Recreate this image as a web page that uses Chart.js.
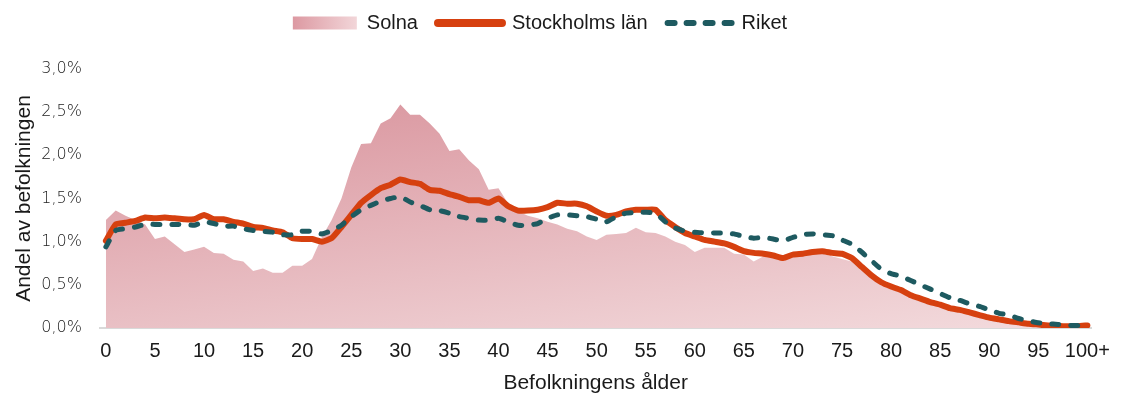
<!DOCTYPE html>
<html>
<head>
<meta charset="utf-8">
<script src="https://cdn.jsdelivr.net/npm/chart.js@4.4.1/dist/chart.umd.min.js"></script>
<style>
  body { margin: 0; background: #fff; }
  #wrap { width: 1121px; height: 400px; }
</style>
</head>
<body>
<div id="wrap"><canvas id="ageChart"></canvas></div>
<script>
// ===================== DATA =====================

// Ålder 0..100 (100 = 100+)
const ages = [];
for (let a = 0; a <= 100; a++) ages.push(a);

const xTickValues = [0, 5, 10, 15, 20, 25, 30, 35, 40, 45, 50, 55, 60, 65, 70, 75, 80, 85, 90, 95, 100];
const xTickLabels = ['0', '5', '10', '15', '20', '25', '30', '35', '40', '45', '50', '55', '60', '65', '70', '75', '80', '85', '90', '95', '100+'];
const yTickValues = [0, 0.5, 1.0, 1.5, 2.0, 2.5, 3.0];

// Andel av befolkningen (%)
const solna = [
  1.25, 1.36, 1.30, 1.25, 1.20, 1.03, 1.06, 0.97, 0.88, 0.91,
  0.94, 0.87, 0.86, 0.79, 0.77, 0.66, 0.69, 0.64, 0.64, 0.72,
  0.72, 0.80, 1.05, 1.25, 1.50, 1.86, 2.13, 2.14, 2.37, 2.43,
  2.59, 2.47, 2.47, 2.37, 2.25, 2.05, 2.07, 1.94, 1.84, 1.60,
  1.62, 1.44, 1.35, 1.30, 1.27, 1.23, 1.20, 1.15, 1.12, 1.06,
  1.02, 1.08, 1.09, 1.10, 1.16, 1.11, 1.10, 1.06, 1.00, 0.96,
  0.88, 0.93, 0.93, 0.93, 0.86, 0.85, 0.77, 0.83, 0.83, 0.82,
  0.83, 0.84, 0.86, 0.86, 0.83, 0.80, 0.77, 0.69, 0.59, 0.50,
  0.46, 0.42, 0.36, 0.32, 0.28, 0.25, 0.21, 0.19, 0.16, 0.13,
  0.11, 0.09, 0.07, 0.055, 0.045, 0.03, 0.025, 0.02, 0.015, 0.01,
  0.02
];

const stockholmsLan = [
  1.01, 1.20, 1.22, 1.24, 1.28, 1.27, 1.28, 1.27, 1.26, 1.26,
  1.31, 1.26, 1.26, 1.23, 1.21, 1.17, 1.16, 1.13, 1.11, 1.04,
  1.03, 1.03, 1.00, 1.04, 1.17, 1.31, 1.45, 1.54, 1.62, 1.66,
  1.72, 1.69, 1.67, 1.60, 1.59, 1.55, 1.52, 1.48, 1.48, 1.45,
  1.50, 1.41, 1.36, 1.36, 1.37, 1.40, 1.45, 1.44, 1.44, 1.41,
  1.35, 1.30, 1.31, 1.35, 1.37, 1.37, 1.37, 1.25, 1.17, 1.10,
  1.06, 1.02, 1.00, 0.98, 0.94, 0.89, 0.87, 0.86, 0.84, 0.81,
  0.85, 0.86, 0.88, 0.89, 0.87, 0.86, 0.81, 0.71, 0.61, 0.53,
  0.48, 0.44, 0.38, 0.34, 0.30, 0.27, 0.23, 0.21, 0.18, 0.15,
  0.12, 0.10, 0.08, 0.065, 0.05, 0.04, 0.03, 0.025, 0.02, 0.02,
  0.03
];

const riket = [
  0.94, 1.13, 1.15, 1.17, 1.20, 1.20, 1.20, 1.20, 1.20, 1.19,
  1.23, 1.21, 1.18, 1.18, 1.15, 1.13, 1.12, 1.11, 1.08, 1.08,
  1.12, 1.12, 1.09, 1.13, 1.19, 1.29, 1.37, 1.42, 1.47, 1.50,
  1.52, 1.46, 1.42, 1.37, 1.36, 1.33, 1.29, 1.27, 1.25, 1.25,
  1.27, 1.23, 1.19, 1.19, 1.21, 1.27, 1.31, 1.31, 1.30, 1.29,
  1.26, 1.23, 1.29, 1.33, 1.34, 1.34, 1.33, 1.23, 1.16, 1.12,
  1.11, 1.10, 1.10, 1.10, 1.09, 1.06, 1.04, 1.05, 1.03, 1.01,
  1.05, 1.08, 1.09, 1.08, 1.07, 1.02, 0.97, 0.88, 0.78, 0.68,
  0.63, 0.60, 0.55, 0.50, 0.45, 0.40, 0.35, 0.32, 0.28, 0.25,
  0.21, 0.17, 0.15, 0.11, 0.085, 0.06, 0.05, 0.04, 0.03, 0.03,
  0.03
];

// ===================== STYLE =====================

const ORANGE = '#d6400f';
const TEAL = '#1e5a60';
const FONT = "'Liberation Sans', Arial, sans-serif";

// Solna yta: gradient uppifrån (mörkare) och nedåt (ljusare)
function solnaFill(context) {
  const { ctx, chartArea } = context.chart;
  if (!chartArea) return 'rgb(228,180,186)';
  const g = ctx.createLinearGradient(chartArea.left + 300, chartArea.top, chartArea.left + 350, chartArea.top + 360);
  g.addColorStop(0, 'rgb(217,148,157)');
  g.addColorStop(1, 'rgb(244,222,224)');
  return g;
}

// Legenden: fast höjd (plottytan börjar på rätt ställe) och lite förskjuten åt vänster
const legendTweak = {
  id: 'legendTweak',
  beforeInit(chart) {
    const legend = chart.legend;
    const fit = legend.fit;
    legend.fit = function () {
      fit.bind(legend)();
      this.height = 76;
    };
    const draw = legend.draw;
    legend.draw = function () {
      chart.ctx.save();
      chart.ctx.translate(-10, 0);
      draw.bind(legend)();
      chart.ctx.restore();
    };
  }
};

const ctx = document.getElementById('ageChart').getContext('2d');
const ageChart = new Chart(ctx, {
  type: 'line',
  data: {
    labels: ages,
    datasets: [{
      label: 'Solna',
      data: solna,
      fill: 'origin',
      backgroundColor: solnaFill,
      borderWidth: 0,
      pointRadius: 0,
      tension: 0,
      order: 2
    }, {
      label: 'Stockholms län',
      data: stockholmsLan,
      fill: false,
      borderColor: ORANGE,
      borderWidth: 6,
      borderCapStyle: 'round',
      borderJoinStyle: 'round',
      pointRadius: 0,
      tension: 0.15,
      order: 1
    }, {
      label: 'Riket',
      data: riket,
      fill: false,
      borderColor: TEAL,
      borderWidth: 5,
      borderDash: [7, 12],
      borderCapStyle: 'round',
      borderJoinStyle: 'round',
      pointRadius: 0,
      tension: 0.15,
      order: 0
    }]
  },
  options: {
    responsive: true,
    maintainAspectRatio: false,
    animation: false,
    layout: { padding: { top: -7, right: 21, left: 0, bottom: 0 } },
    plugins: {
      tooltip: { enabled: false },
      legend: {
        position: 'top',
        labels: {
          usePointStyle: true,
          pointStyleWidth: 64,
          boxHeight: 13,
          padding: 20,
          color: '#1a1a1a',
          font: { family: FONT, size: 20 },
          sort: (a, b) => a.datasetIndex - b.datasetIndex,
          generateLabels: function (chart) {
            const g = chart.ctx.createLinearGradient(302, 0, 367, 0);
            g.addColorStop(0, 'rgb(220,152,161)');
            g.addColorStop(1, 'rgb(242,214,217)');
            return [{
              text: 'Solna', datasetIndex: 0, pointStyle: 'rect',
              fillStyle: g, strokeStyle: g, lineWidth: 0, fontColor: '#1a1a1a'
            }, {
              text: 'Stockholms län', datasetIndex: 1, pointStyle: 'line',
              fillStyle: ORANGE, strokeStyle: ORANGE, lineWidth: 8, lineCap: 'round', fontColor: '#1a1a1a'
            }, {
              text: 'Riket', datasetIndex: 2, pointStyle: 'line',
              fillStyle: TEAL, strokeStyle: TEAL, lineWidth: 6, lineCap: 'round', lineDash: [7, 12], fontColor: '#1a1a1a'
            }];
          }
        }
      }
    },
    scales: {
      x: {
        type: 'linear',
        min: -0.6,
        max: 100.4,
        afterBuildTicks: scale => {
          scale.ticks = xTickValues.map(v => ({ value: v }));
        },
        afterFit: scale => { scale.height = 72; },
        ticks: {
          padding: 11,
          color: '#1a1a1a',
          font: { family: FONT, size: 20 },
          maxRotation: 0,
          autoSkip: false,
          callback: (value) => xTickLabels[xTickValues.indexOf(value)]
        },
        grid: { display: false, drawTicks: false },
        border: { display: true, color: '#d9d9d9', width: 2 },
        title: {
          display: true,
          text: 'Befolkningens ålder',
          color: '#1a1a1a',
          font: { family: FONT, size: 21 },
          padding: { top: 7, bottom: 4 }
        }
      },
      y: {
        min: 0,
        max: 3,
        afterBuildTicks: scale => {
          scale.ticks = yTickValues.map(v => ({ value: v }));
        },
        afterFit: scale => { scale.width = 100; },
        ticks: {
          padding: 18,
          color: '#222',
          font: { family: "'DejaVu Sans', sans-serif", size: 16, weight: 200 },
          callback: (value) => value.toFixed(1).replace('.', ',') + '%'
        },
        grid: { display: false, drawTicks: false },
        border: { display: false },
        title: {
          display: true,
          text: 'Andel av befolkningen',
          color: '#1a1a1a',
          font: { family: FONT, size: 21 },
          padding: { top: 12, bottom: 8 }
        }
      }
    }
  },
  plugins: [legendTweak]
});
</script>
</body>
</html>
